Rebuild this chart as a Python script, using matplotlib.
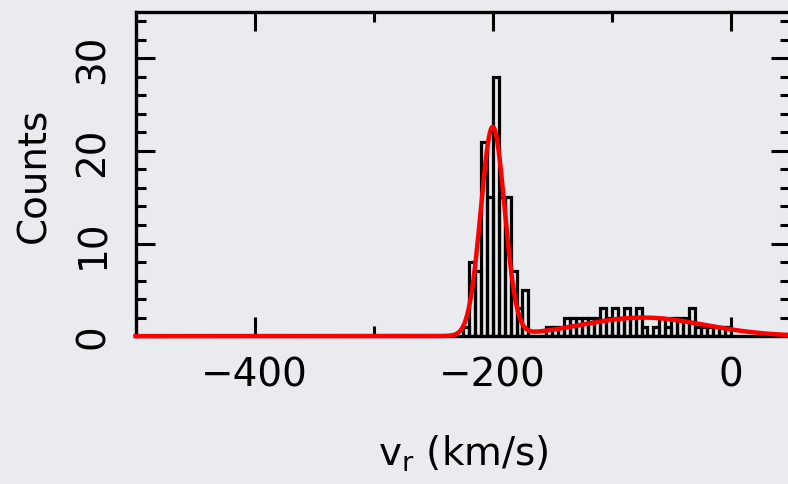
import numpy as np
import matplotlib.pyplot as plt
from matplotlib.ticker import MultipleLocator, FixedLocator

# histogram of radial velocities, 5 km/s bins starting at -225
bin_start = -225
bin_width = 5
counts = [1, 8, 7, 21, 15, 28, 15, 15, 7, 3, 5,      # main peak
          0, 0, 0,
          1, 1, 1, 2, 2, 2, 2, 2, 2, 3, 2, 3, 2, 3, 2, 3,
          1, 0, 1, 2, 1, 2, 2, 2, 3, 1, 1, 1, 1, 1, 1]  # broad tail

# two-gaussian fit (amplitude, centre, sigma)
fit_amp = [22.5, 2.0]
fit_mu = [-200.0, -74.0]
fit_sig = [10.0, 52.0]

bg = '#e9ebef'
plt.rcParams['font.family'] = ['DejaVu Sans']
plt.rcParams['mathtext.fontset'] = 'dejavusans'

fig = plt.figure(figsize=(7.88, 4.85), dpi=100, facecolor=bg)
ax = fig.add_axes([0.172, 0.305, 0.831, 0.668])
ax.set_facecolor(bg)

lefts = bin_start + bin_width * np.arange(len(counts))
ax.bar(lefts, counts, width=bin_width, align='edge', fill=False,
       edgecolor='black', linewidth=2.3, zorder=2)

x = np.linspace(-500, 50, 1200)
y = np.zeros_like(x)
for a, m, s in zip(fit_amp, fit_mu, fit_sig):
    y += a * np.exp(-(x - m) ** 2 / (2 * s ** 2))
ax.plot(x, y, color='red', linewidth=3.2, zorder=3, clip_on=False)

ax.set_xlim(-500, 50)
ax.set_ylim(0, 35)

ax.xaxis.set_major_locator(FixedLocator([-400, -200, 0]))
ax.xaxis.set_minor_locator(MultipleLocator(100))
ax.yaxis.set_major_locator(MultipleLocator(10))
ax.yaxis.set_minor_locator(MultipleLocator(2))

ax.tick_params(which='both', direction='in', top=True, right=True, width=2.2, color='black')
ax.tick_params(which='major', length=14)
ax.tick_params(which='minor', length=7.5)
ax.tick_params(axis='x', labelsize=28, pad=14)
ax.tick_params(axis='y', labelsize=28, pad=17)
for lab in ax.get_yticklabels():
    lab.set_rotation(90)
    lab.set_va('center')

for sp in ax.spines.values():
    sp.set_linewidth(2.4)

ax.set_ylabel('Counts', fontsize=28, labelpad=15)
ax.set_xlabel(r'v$_\mathregular{r}$ (km/s)', fontsize=28, labelpad=28)

fig.savefig('out.png', dpi=100, facecolor=bg)
